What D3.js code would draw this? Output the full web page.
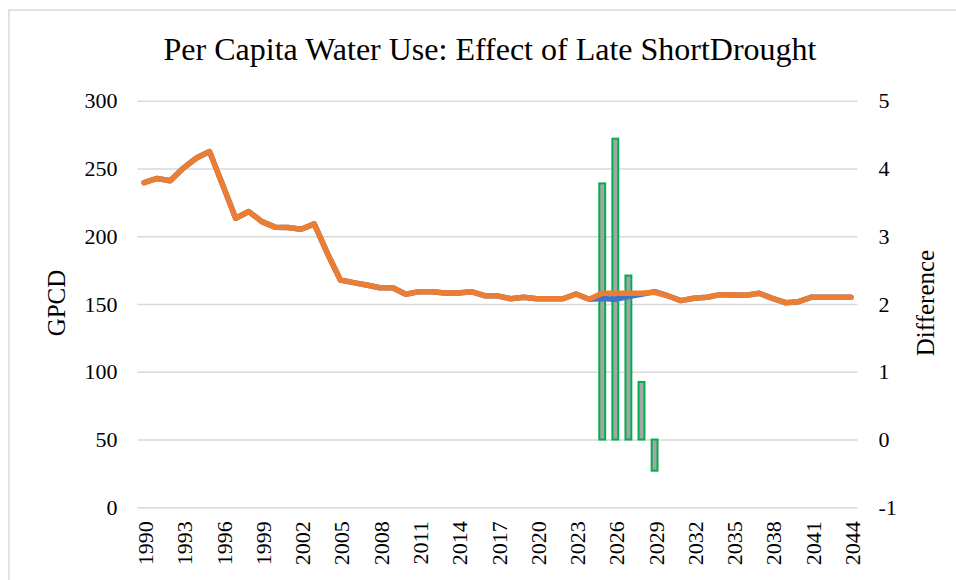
<!DOCTYPE html>
<html>
<head>
<meta charset="utf-8">
<script src="https://cdn.jsdelivr.net/npm/d3@7"></script>
<style>
  body { margin: 0; background: #fff; }
  text { font-family: "Liberation Serif", "Times New Roman", serif; fill: #000; }
</style>
</head>
<body>
<div id="chart"></div>
<script>
// years 1990..2044
let years = [];
for (let y = 1990; y <= 2044; y++) years.push(y);

// late short drought scenario (orange)
let lateDrought = [
    239.6, 242.6, 241, 250.3, 257.7, 262.5, 238, 213.3, 218.2, 210.8,
    206.7, 206.4, 205.2, 209.1, 187.5, 167.7, 165.8, 164, 162, 162,
    157.2, 159.1, 159.1, 158.1, 158.1, 159.1, 156.1, 156, 153.9, 154.9,
    153.9, 153.9, 153.9, 157.4, 153.5, 157.9, 157.9, 157.9, 157.9, 158.6,
    156.1, 152.5, 154.2, 155, 156.9, 156.6, 156.4, 157.9, 154.2, 151,
    151.7, 155, 155, 155, 155
];

// baseline (blue), only differs 2025-2029
let baseline = [
    239.6, 242.6, 241, 250.3, 257.7, 262.5, 238, 213.3, 218.2, 210.8,
    206.7, 206.4, 205.2, 209.1, 187.5, 167.7, 165.8, 164, 162, 162,
    157.2, 159.1, 159.1, 158.1, 158.1, 159.1, 156.1, 156, 153.9, 154.9,
    153.9, 153.9, 153.9, 157.4, 153.5, 154.1, 153.5, 155.5, 157.1, 159.1,
    156.1, 152.5, 154.2, 155, 156.9, 156.6, 156.4, 157.9, 154.2, 151,
    151.7, 155, 155, 155, 155
];

// difference bars
let diffYears = [2025, 2026, 2027, 2028, 2029];
let diffValues = [3.78, 4.44, 2.42, 0.85, -0.46];

let leftTicks = [0, 50, 100, 150, 200, 250, 300];
let rightTicks = [-1, 0, 1, 2, 3, 4, 5];
let yearLabels = years.filter(d => (d - 1990) % 3 === 0);

let width = 956;
let height = 580;

let plot = { left: 137.5, right: 857.5, top: 100.7, bottom: 507.3 };

let svg = d3.select("#chart")
    .append("svg")
    .attr("width", width)
    .attr("height", height);

// chart frame
svg.append("rect")
    .attr("x", 9)
    .attr("y", 10)
    .attr("width", 960)
    .attr("height", 600)
    .attr("fill", "none")
    .attr("stroke", "#d9d9d9")
    .attr("stroke-width", 1.5);

let x = d3.scaleBand()
    .domain(years)
    .range([plot.left, plot.right]);

let y = d3.scaleLinear()
    .domain([0, 300])
    .range([plot.bottom, plot.top]);

let y2 = d3.scaleLinear()
    .domain([-1, 5])
    .range([plot.bottom, plot.top]);

// gridlines + left labels
let leftAxis = svg.append("g")
    .attr("transform", "translate(" + plot.left + ",0)")
    .call(d3.axisLeft(y).tickValues(leftTicks).tickSize(-(plot.right - plot.left)).tickPadding(20));
leftAxis.select(".domain").remove();
leftAxis.selectAll("line").attr("stroke", "#d9d9d9").attr("stroke-width", 1.5);
leftAxis.selectAll("text")
    .style("font-size", "22px")
    .style("font-family", "Liberation Serif, serif");

let rightAxis = svg.append("g")
    .attr("transform", "translate(" + plot.right + ",0)")
    .call(d3.axisRight(y2).tickValues(rightTicks).tickFormat(d => String(d)).tickSize(0).tickPadding(21));
rightAxis.select(".domain").remove();
rightAxis.selectAll("text")
    .style("font-size", "22px")
    .style("font-family", "Liberation Serif, serif");

// year labels
svg.append("g")
    .selectAll("text")
    .data(yearLabels)
    .enter()
    .append("text")
    .attr("transform", d => "translate(" + (x(d) + x.bandwidth() / 2 + 9) + "," + (plot.bottom + 14) + ") rotate(-90)")
    .attr("text-anchor", "end")
    .style("font-size", "22px")
    .text(d => d);

// bars
let barW = x.bandwidth() * 0.45;
svg.append("g")
    .selectAll("rect")
    .data(diffYears)
    .enter()
    .append("rect")
    .attr("x", d => x(d) + (x.bandwidth() - barW) / 2)
    .attr("y", (d, i) => y2(Math.max(0, diffValues[i])))
    .attr("width", barW)
    .attr("height", (d, i) => Math.abs(y2(diffValues[i]) - y2(0)))
    .attr("fill", "#a5a5a5")
    .attr("stroke", "#00b050")
    .attr("stroke-width", 2);

// lines
let line = d3.line()
    .x((d, i) => x(years[i]) + x.bandwidth() / 2)
    .y(d => y(d));

svg.append("path")
    .datum(baseline)
    .attr("d", line)
    .attr("fill", "none")
    .attr("stroke", "#4472c4")
    .attr("stroke-width", 5.5)
    .attr("stroke-linejoin", "round")
    .attr("stroke-linecap", "round");

svg.append("path")
    .datum(lateDrought)
    .attr("d", line)
    .attr("fill", "none")
    .attr("stroke", "#ed7d31")
    .attr("stroke-width", 5.5)
    .attr("stroke-linejoin", "round")
    .attr("stroke-linecap", "round");

// title
svg.append("text")
    .attr("x", 490)
    .attr("y", 60)
    .attr("text-anchor", "middle")
    .style("font-size", "32px")
    .text("Per Capita Water Use: Effect of Late ShortDrought");

// axis titles
svg.append("text")
    .attr("transform", "translate(65,303) rotate(-90)")
    .attr("text-anchor", "middle")
    .style("font-size", "25px")
    .text("GPCD");

svg.append("text")
    .attr("transform", "translate(934,303) rotate(-90)")
    .attr("text-anchor", "middle")
    .style("font-size", "25px")
    .text("Difference");
</script>
</body>
</html>
